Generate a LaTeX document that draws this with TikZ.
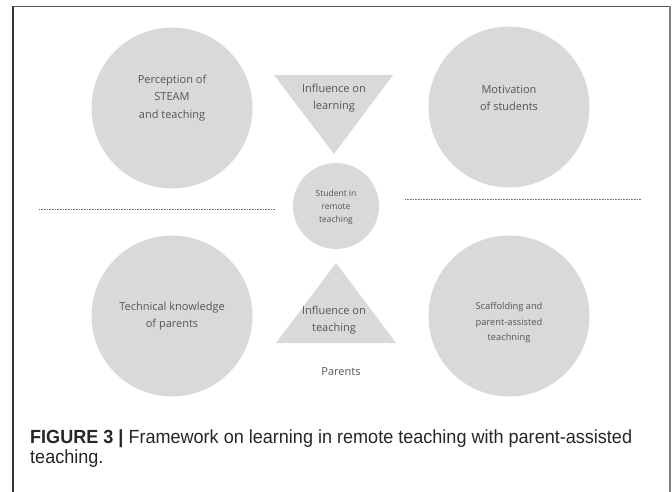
\documentclass[tikz,border=0pt]{standalone}
\usepackage{fontspec}
\setmainfont{Open Sans}
\newfontfamily\capfont[FakeStretch=0.95]{Liberation Sans}
\usepackage{xcolor}
\usetikzlibrary{shapes.geometric, positioning, calc}

\definecolor{shapegray}{RGB}{217,217,217}
\definecolor{textgray}{RGB}{85,85,85}
\definecolor{dotgray}{RGB}{110,110,110}

\begin{document}
\begin{tikzpicture}[
    x=1pt, y=-1pt,
    bigcirc/.style={draw=none, ellipse, fill=shapegray, minimum width=161pt, minimum height=161pt, inner sep=0pt},
    midcirc/.style={draw=none, ellipse, fill=shapegray, minimum width=86pt, minimum height=86pt, inner sep=0pt},
    tri/.style={fill=shapegray},
    lbl/.style={align=center, text=textgray, font=\fontsize{11}{17.5}\selectfont, inner sep=0pt},
    smalllbl/.style={align=center, text=textgray, font=\fontsize{8.5}{13}\selectfont, inner sep=0pt},
    sepline/.style={dotgray, line width=1.4pt, dash pattern=on 0.8pt off 0.8pt},
    caption/.style={anchor=base west, align=left, inner sep=0pt, font=\capfont\fontsize{19}{20}\selectfont, text=black!85}
]
\useasboundingbox (0,0) rectangle (672,492);

% Frame
\draw[black!80, line width=1.5pt] (13,492) -- (13,6.5);
\draw[black!65, line width=1.2pt] (13,6.5) -- (670,6.5);
\draw[black!50, line width=2pt] (670,6) -- (670,492);

% Upper circles
\node[bigcirc] (percep) at (172,108) {};
\node[lbl] (perceptxt) at ([yshift=10pt]percep.center) {Perception of\\STEAM\\and teaching};
\node[bigcirc] (motiv) at (509,107) {};
\node[lbl] (motivtxt) at ([yshift=9pt]motiv.center) {Motivation\\of students};

% Influence on learning
\coordinate (lrnA) at (274,75);
\coordinate (lrnB) at (393,75);
\coordinate (lrnC) at (334,154);
\fill[tri] (lrnA) -- (lrnB) -- (lrnC) -- cycle;
\node[lbl] (lrntxt) at (334,98) {Influence on\\learning};

% Student in the middle
\node[midcirc] (student) at (336,206) {};
\node[smalllbl] (studenttxt) at ([yshift=-1pt]student.center) {Student in\\remote\\teaching};

% Separators
\coordinate (sepL1) at (39,209.5);
\coordinate (sepL2) at (275,209.5);
\coordinate (sepR1) at (405,199.5);
\coordinate (sepR2) at (641,199.5);
\draw[sepline] (sepL1) -- (sepL2);
\draw[sepline] (sepR1) -- (sepR2);

% Lower circles
\node[bigcirc] (techkn) at (172,316) {};
\node[lbl] (techkntxt) at ([yshift=0pt]techkn.center) {Technical knowledge\\of parents};
\node[bigcirc] (scaff) at (509,316) {};
\node[smalllbl, font=\fontsize{9.3}{15.5}\selectfont] (scafftxt) at ([yshift=-7pt]scaff.center) {Scaffolding and\\parent-assisted\\teachning};

% Influence on teaching
\coordinate (tchA) at (336,263);
\coordinate (tchB) at (396,343);
\coordinate (tchC) at (276,343);
\fill[tri] (tchA) -- (tchB) -- (tchC) -- cycle;
\node[lbl] (tchtxt) at (334,320) {Influence on\\teaching};
\node[lbl] (parents) at (341,372) {Parents};

% Caption
\node[caption] (cap) at (30,463) {\textbf{FIGURE 3 |} Framework on learning in remote teaching with parent-assisted\\teaching.};

\end{tikzpicture}
\end{document}
